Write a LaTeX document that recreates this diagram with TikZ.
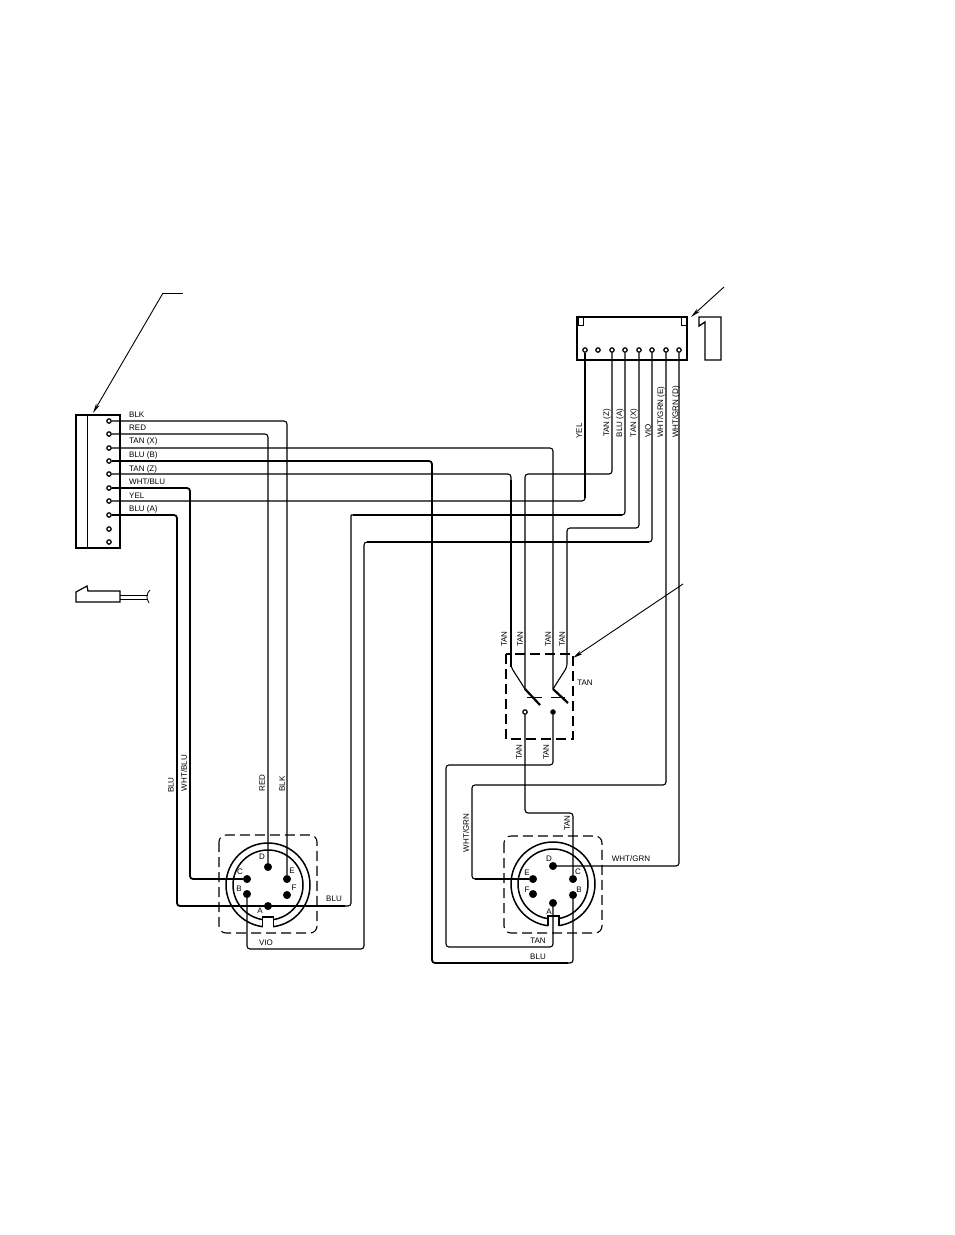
\documentclass[tikz,border=0pt]{standalone}
\usepackage{fontspec}
\setmainfont{Liberation Sans}
\usetikzlibrary{arrows.meta}
\tikzset{
    lbl/.style={inner sep=0pt, font=\fontsize{8}{8}\selectfont},
    lblup/.style={lbl, rotate=90},
    wire/.style={line width=1.1pt, rounded corners=3pt},
    heavywire/.style={line width=1.8pt, rounded corners=3pt},
    pin/.style={circle, draw=black, fill=white, line width=1.2pt, inner sep=0pt, minimum size=4.4pt},
    contact/.style={circle, draw=black, fill=black, inner sep=0pt, minimum size=7.5pt},
    ring/.style={circle, draw=black, line width=1.5pt, inner sep=0pt},
    border/.style={draw=black, dash pattern=on 10pt off 5pt, line width=1.1pt},
    leader/.style={line width=0.9pt, -{Stealth[length=10pt,width=4pt]}},
    housing/.style={draw=black, line width=1.1pt, inner sep=0pt}
}
\begin{document}
\begin{tikzpicture}[x=1pt, y=-1pt]
    \useasboundingbox (0,0) rectangle (954,1235);

    % left terminal block
    \node[housing, minimum width=44pt, minimum height=133pt](leftblock) at (98,481.5){};
    \draw[line width=1pt] (87,415) -- (87,548);
    \foreach \n/\y in {1/421,2/434,3/448,4/461,5/474,6/488,7/501,8/515,9/529,10/542}
        \node[pin](lp\n) at (109,\y){};

    % top terminal block
    \node[housing, minimum width=110pt, minimum height=43pt](topblock) at (632,338.5){};
    \draw[line width=1.8pt] (577,360) -- (687,360);
    \draw[line width=0.8pt] (578,317) rectangle (583,325);
    \draw[line width=0.8pt] (681,317) rectangle (686,325);
    \foreach \n/\x in {1/585,2/598,3/612,4/625,5/639,6/652,7/666,8/679}
        \node[pin](tp\n) at (\x,350){};

    % loose parts
    \draw[line width=1.3pt] (699,326) -- (699,317) -- (721,317) -- (721,360) -- (705,360) -- (705,322) -- cycle;
    \draw[line width=1.2pt] (76,592) -- (87,586) -- (88,591) -- (120,591) -- (120,602) -- (76,602) -- cycle;
    \draw[line width=0.8pt] (120,595) -- (148,595);
    \draw[line width=0.8pt] (120,599) -- (148,599);
    \draw[line width=0.8pt] (150,590) .. controls (146,594) and (146,598) .. (149,603);

    % left socket
    \draw[border, rounded corners=7pt] (219,835) rectangle (317,933);
    \node[ring, minimum size=84pt](leftouter) at (268,885){};
    \node[ring, minimum size=70pt](leftinner) at (268,885){};
    \fill[white] (263,917) rectangle (273,930);
    \draw[line width=1.3pt] (262.5,927) -- (262.5,917) -- (273.5,917) -- (273.5,927);
    \node[contact](la) at (268,906){};
    \node[contact](lb) at (247,894){};
    \node[contact](lc) at (247,879){};
    \node[contact](ld) at (268,867){};
    \node[contact](le) at (287,879){};
    \node[contact](lf) at (287,895){};

    % right socket
    \draw[border, rounded corners=7pt] (504,836) rectangle (602,933);
    \node[ring, minimum size=84pt](rightouter) at (553,884){};
    \node[ring, minimum size=70pt](rightinner) at (553,884){};
    \fill[white] (548,916) rectangle (559,930);
    \draw[line width=1.3pt] (548,926) -- (548,916) -- (559,916) -- (559,926);
    \node[contact](ra) at (553,903){};
    \node[contact](rb) at (573,895){};
    \node[contact](rc) at (573,879){};
    \node[contact](rd) at (553,866){};
    \node[contact](re) at (533,879){};
    \node[contact](rf) at (533,894){};

    % switch
    \draw[border] (506,654) rectangle (573,739);
    \node[pin](swa) at (525,712){};
    \node[contact, minimum size=5pt](swb) at (553,712){};
    \coordinate (pivota) at (525,689);
    \coordinate (pivotb) at (553,689);
    \draw[line width=2.2pt] (pivota) -- (540,705);
    \draw[line width=2.2pt] (pivotb) -- (568,703);
    \draw[line width=1pt] (527,697) -- (542,697);
    \draw[line width=1pt] (551,697) -- (565,697);

    % wires
    \draw[wire] (lp1) -| (le);
    \draw[wire] (lp2) -| (ld);
    \draw[wire] (lp3) -| (pivotb);
    \draw[heavywire] (lp4) -| (432,963) -- (568,963);
    \draw[wire] (rb) |- (560,963);
    \draw[wire] (lp5) -| (511,667) -- (pivota);
    \draw[heavywire] (511,480) -- (511,667);
    \draw[heavywire] (lp6) -| (190,879) -- (lc);
    \draw[wire] (lp7) -| (tp1);
    \draw[heavywire] (585,498) -- (tp1);
    \draw[heavywire] (lp8) -| (177,906) -- (345,906);
    \draw[wire] (340,906) -| (351,515);
    \draw[wire] (tp4) |- (351,515);
    \draw[heavywire] (353,515) -- (622,515);
    \draw[wire] (tp3) |- (525,474) -- (pivota);
    \draw[wire] (tp5) |- (567,528) -- (567,667) -- (pivotb);
    \draw[wire] (tp6) |- (364,542) |- (247,949) -- (lb);
    \draw[heavywire] (649,542) -- (367,542);
    \draw[wire] (tp7) |- (472,785) |- (re);
    \draw[heavywire] (475,879) -- (re);
    \draw[wire] (tp8) |- (rd);
    \draw[wire] (swa) |- (573,813) -- (rc);
    \draw[wire] (swb) |- (446,765) |- (553,947) -- (ra);

    % leaders
    \coordinate (leftelbow) at (163,293);
    \coordinate (leftend) at (183,293);
    \coordinate (lefttip) at (93,413);
    \coordinate (topstart) at (724,287);
    \coordinate (toptip) at (691,317);
    \coordinate (swstart) at (683,584);
    \coordinate (swtip) at (573,658);
    \draw[line width=0.9pt] (leftend) -- (leftelbow);
    \draw[leader] (leftelbow) -- (lefttip);
    \draw[leader] (topstart) -- (toptip);
    \draw[leader] (swstart) -- (swtip);

    % labels on the left block
    \node[lbl, anchor=west](lblblk) at (129,415){BLK};
    \node[lbl, anchor=west](lblred) at (129,428){RED};
    \node[lbl, anchor=west](lbltanx) at (129,441.5){TAN (X)};
    \node[lbl, anchor=west](lblblub) at (129,455){BLU (B)};
    \node[lbl, anchor=west](lbltanz) at (129,469){TAN (Z)};
    \node[lbl, anchor=west](lblwhtblu) at (129,482){WHT/BLU};
    \node[lbl, anchor=west](lblyel) at (129,495.5){YEL};
    \node[lbl, anchor=west](lblblua) at (129,509){BLU (A)};

    % labels on the top block
    \node[lblup](lbltopyel) at (579,431){YEL};
    \node[lblup](lbltoptanz) at (607,423){TAN (Z)};
    \node[lblup](lbltopblua) at (620,423){BLU (A)};
    \node[lblup](lbltoptanx) at (634,423){TAN (X)};
    \node[lblup](lbltopvio) at (648,431){VIO};
    \node[lblup](lbltopgrne) at (661,412){WHT/GRN (E)};
    \node[lblup](lbltopgrnd) at (676,412){WHT/GRN (D)};

    % labels at the switch
    \node[lblup](lblswa) at (504,639){TAN};
    \node[lblup](lblswb) at (520,639){TAN};
    \node[lblup](lblswc) at (548,639){TAN};
    \node[lblup](lblswd) at (562,639){TAN};
    \node[lbl](lblswe) at (585,683){TAN};
    \node[lblup](lblswf) at (519,752){TAN};
    \node[lblup](lblswg) at (546,752){TAN};

    % labels at the left socket
    \node[lblup](lblsockblu) at (171,785){BLU};
    \node[lblup](lblsockwht) at (184,773){WHT/BLU};
    \node[lblup](lblsockred) at (262,783){RED};
    \node[lblup](lblsockblk) at (282,784){BLK};
    \node[lbl](lblsockbluh) at (334,899){BLU};
    \node[lbl](lblsockvio) at (266,943){VIO};
    \node[lbl](lblla) at (260,911){A};
    \node[lbl](lbllb) at (239,889){B};
    \node[lbl](lbllc) at (240,872){C};
    \node[lbl](lblld) at (262,857){D};
    \node[lbl](lblle) at (292,871){E};
    \node[lbl](lbllf) at (294,888){F};

    % labels at the right socket
    \node[lblup](lblrgrn) at (466,833){WHT/GRN};
    \node[lblup](lblrtan) at (567,823){TAN};
    \node[lbl](lblrgrnh) at (631,859){WHT/GRN};
    \node[lbl](lblrtanh) at (538,941){TAN};
    \node[lbl](lblrblu) at (538,957){BLU};
    \node[lbl](lblra) at (549,912){A};
    \node[lbl](lblrb) at (579,890){B};
    \node[lbl](lblrc) at (578,872){C};
    \node[lbl](lblrd) at (549,859){D};
    \node[lbl](lblre) at (527,873){E};
    \node[lbl](lblrf) at (527,890){F};
\end{tikzpicture}
\end{document}
